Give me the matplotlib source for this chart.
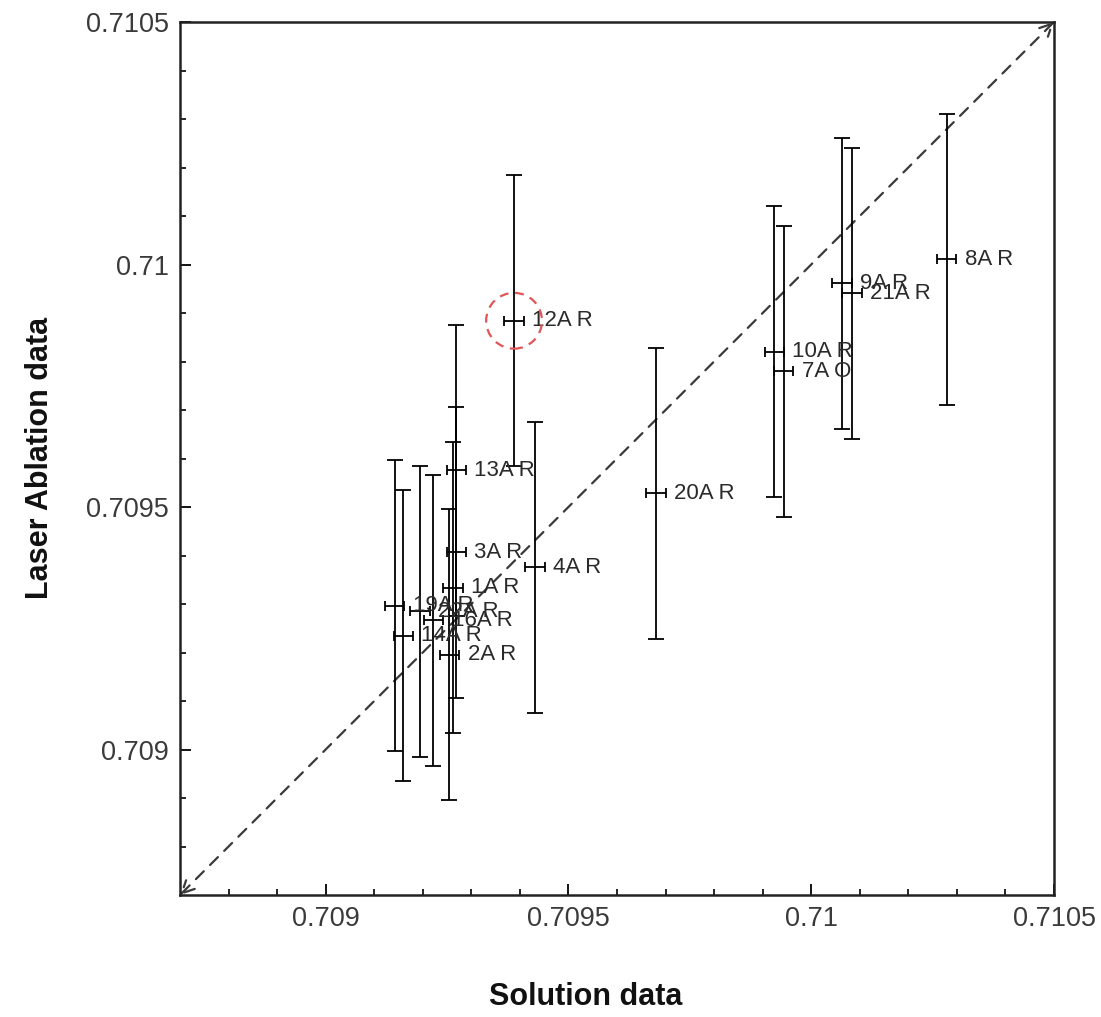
import matplotlib
matplotlib.use("Agg")
import matplotlib.pyplot as plt
from matplotlib.patches import Circle
import numpy as np

plt.rcParams['font.family'] = ['Liberation Sans', 'DejaVu Sans']

# ---- data ----
labels = ["12A R", "13A R", "3A R", "4A R", "1A R", "19A R", "22A R", "16A R",
          "14A R", "2A R", "20A R", "10A R", "7A O", "9A R", "21A R", "8A R"]
solution = [0.709388, 0.709269, 0.709269, 0.709431, 0.709262, 0.709142, 0.709194, 0.709222,
            0.709160, 0.709255, 0.709680, 0.709924, 0.709943, 0.710063, 0.710084, 0.710279]
laser = [0.709884, 0.709576, 0.709407, 0.709376, 0.709334, 0.709296, 0.709285, 0.709266,
         0.709235, 0.709195, 0.709528, 0.709820, 0.709780, 0.709961, 0.709941, 0.710011]
solution_err = [0.00002] * len(labels)
laser_err = [0.0003] * len(labels)
highlight = "12A R"

xlim = (0.7087, 0.7105)
ylim = (0.7087, 0.7105)
major_ticks = [0.709, 0.7095, 0.71, 0.7105]
major_labels = ["0.709", "0.7095", "0.71", "0.7105"]

# ---- figure ----
W, H = 1101, 1017
fig = plt.figure(figsize=(W / 100, H / 100), dpi=100)
ax = fig.add_axes([180 / W, 1 - 895 / H, 874 / W, 873 / H])

ax.set_xlim(*xlim)
ax.set_ylim(*ylim)

# diagonal 1:1 line with arrows
ax.annotate("", xy=(xlim[1], ylim[1]), xytext=(xlim[0], ylim[0]),
            arrowprops=dict(arrowstyle="<->", linestyle=(0, (5, 4)), color="#3a3a3a",
                            lw=1.6, shrinkA=0, shrinkB=0, mutation_scale=22),
            zorder=1)

# vertical error bars
ax.errorbar(solution, laser, yerr=laser_err, fmt="none", ecolor="black",
            elinewidth=1.3, capsize=5.5, capthick=1.3, zorder=3)
# horizontal error bars
ax.errorbar(solution, laser, xerr=solution_err, fmt="none", ecolor="black",
            elinewidth=1.3, capsize=3.8, capthick=1.3, zorder=3)

for lab, x, y, xe in zip(labels, solution, laser, solution_err):
    ax.annotate(lab, xy=(x + xe, y), xytext=(6, 0), textcoords="offset points",
                ha="left", va="center", fontsize=16, color="#2a2a2a", zorder=4)

# highlight circle
i = labels.index(highlight)
ax.add_patch(Circle((solution[i], laser[i]), 0.0000575, fill=False,
                    edgecolor="#e05555", linestyle=(0, (4, 3)), lw=1.6, zorder=5))

ax.set_xticks(major_ticks)
ax.set_xticklabels(major_labels)
ax.set_yticks(major_ticks)
ax.set_yticklabels(major_labels)
ax.set_xticks(np.arange(0.7088, 0.71051, 0.0001), minor=True)
ax.set_yticks(np.arange(0.7088, 0.71051, 0.0001), minor=True)
ax.tick_params(which="both", direction="in", top=False, right=False, colors="black",
               labelcolor="#3a3a3a", labelsize=19.5)
ax.tick_params(which="major", length=8, width=1.3, pad=8)
ax.tick_params(which="minor", length=4.5, width=1.2)

for s in ax.spines.values():
    s.set_linewidth(1.8)
    s.set_color("#222222")

fig.text(586 / W, 1 - 997 / H, "Solution data", ha="center", va="center",
         fontsize=22, fontweight="bold", color="#111111")
fig.text(40 / W, 1 - 458 / H, "Laser Ablation data", ha="center", va="center",
         rotation=90, fontsize=22, fontweight="bold", color="#111111")

fig.savefig("out.png", dpi=100)
